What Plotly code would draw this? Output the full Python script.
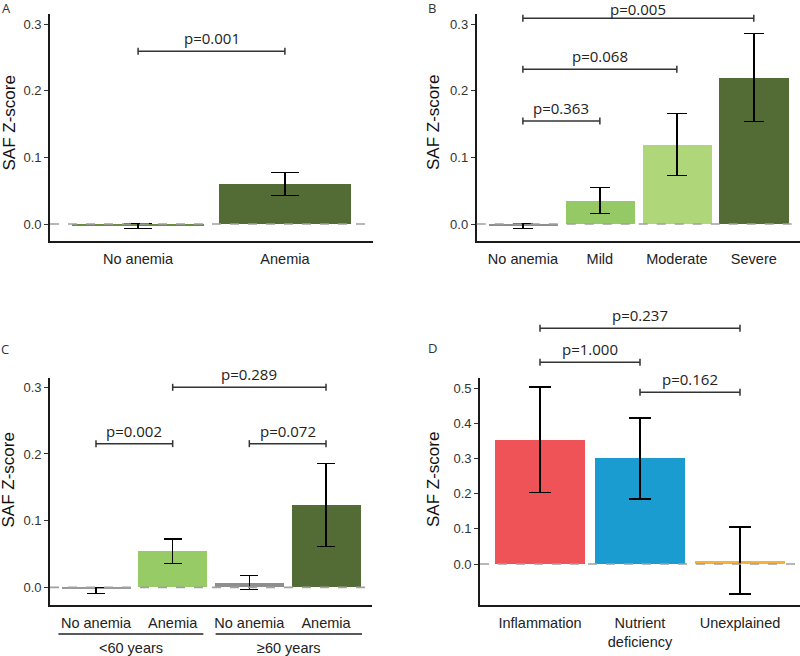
import plotly.graph_objects as go

# ---------------- data ----------------
A_cats = ["No anemia", "Anemia"]
A_vals = [-0.002, 0.060]
A_hi = [0.001, 0.0775]
A_lo = [-0.007, 0.0425]
A_colors = ["#6B8E3E", "#536C36"]
A_pairs = [(0, 1)]
A_pvals = ["p=0.001"]

B_cats = ["No anemia", "Mild", "Moderate", "Severe"]
B_vals = [-0.002, 0.035, 0.119, 0.2195]
B_hi = [0.001, 0.055, 0.1655, 0.286]
B_lo = [-0.007, 0.016, 0.0725, 0.1535]
B_colors = ["#8E8E8E", "#95C965", "#B0D67A", "#536C36"]
B_pairs = [(0, 1), (0, 2), (0, 3)]
B_pvals = ["p=0.363", "p=0.068", "p=0.005"]

C_cats = ["No anemia", "Anemia", "No anemia", "Anemia"]
C_groups = ["<60 years", "≥60 years"]
C_vals = [-0.002, 0.0545, 0.006, 0.1235]
C_hi = [-0.0005, 0.0725, 0.0175, 0.1855]
C_lo = [-0.009, 0.036, -0.003, 0.061]
C_colors = ["#9A9A9A", "#96CB66", "#8E8E8E", "#536C36"]
C_pairs = [(0, 1), (2, 3), (1, 3)]
C_pvals = ["p=0.002", "p=0.072", "p=0.289"]

D_cats = ["Inflammation", "Nutrient<br>deficiency", "Unexplained"]
D_vals = [0.353, 0.300, 0.0085]
D_hi = [0.503, 0.415, 0.105]
D_lo = [0.203, 0.185, -0.086]
D_colors = ["#EF5257", "#1A9CD0", "#F8B133"]
D_pairs = [(0, 1), (1, 2), (0, 2)]
D_pvals = ["p=1.000", "p=0.162", "p=0.237"]

# ---------------- layout helpers ----------------
W, H = 800, 656
TICKFONT = "Liberation Sans"
PFONT = "Open Sans"


def px_x(p):
    return p / W


def px_y(p):
    return 1 - p / H


panels = [
    dict(name="A", cats=A_cats, vals=A_vals, hi=A_hi, lo=A_lo, colors=A_colors,
         pairs=A_pairs, pvals=A_pvals, bracket_y=[0.259], pshift=[1],
         xdom=[px_x(50), px_x(373)], ypx=(14, 241), yrange=[-0.0255, 0.315],
         yticks=[0, 0.1, 0.2, 0.3], cap=14, title_x=8.5, title_y=123,
         letter=(6, 8)),
    dict(name="B", cats=B_cats, vals=B_vals, hi=B_hi, lo=B_lo, colors=B_colors,
         pairs=B_pairs, pvals=B_pvals, bracket_y=[0.1545, 0.232, 0.3085],
         pshift=[1, 1, -2.5],
         xdom=[px_x(476.7), 1.0], ypx=(14, 241), yrange=[-0.0255, 0.315],
         yticks=[0, 0.1, 0.2, 0.3], cap=10, title_x=433, title_y=123,
         letter=(432, 8)),
    dict(name="C", cats=C_cats, vals=C_vals, hi=C_hi, lo=C_lo, colors=C_colors,
         pairs=C_pairs, pvals=C_pvals, bracket_y=[0.2155, 0.2155, 0.300],
         pshift=[1, 1, 1],
         xdom=[px_x(50), px_x(372)], ypx=(378.3, 605), yrange=[-0.0265, 0.3135],
         yticks=[0, 0.1, 0.2, 0.3], cap=9, title_x=7.5, title_y=480,
         letter=(5, 349)),
    dict(name="D", cats=D_cats, vals=D_vals, hi=D_hi, lo=D_lo, colors=D_colors,
         pairs=D_pairs, pvals=D_pvals, bracket_y=[0.574, 0.4887, 0.671],
         pshift=[1, 1, 1],
         xdom=[px_x(480), 1.0], ypx=(378.3, 605), yrange=[-0.1167, 0.5286],
         yticks=[0, 0.1, 0.2, 0.3, 0.4, 0.5], cap=11, title_x=433, title_y=480,
         letter=(432, 348)),
]

fig = go.Figure()
shapes = []
annotations = []
layout_axes = {}

for k, p in enumerate(panels, start=1):
    xs = "" if k == 1 else str(k)
    xid, yid = "x" + xs, "y" + xs
    n = len(p["cats"])
    xpos = list(range(n))
    r0, r1 = p["yrange"]

    def dfrac(v, r0=r0, r1=r1):
        return (v - r0) / (r1 - r0)

    fig.add_trace(go.Bar(
        x=xpos, y=p["vals"], width=0.9,
        marker=dict(color=p["colors"], line=dict(width=0)),
        error_y=dict(type="data", symmetric=False,
                     array=[h - v for h, v in zip(p["hi"], p["vals"])],
                     arrayminus=[v - l for v, l in zip(p["vals"], p["lo"])],
                     color="black", thickness=1.6, width=p["cap"]),
        xaxis=xid, yaxis=yid, showlegend=False, hoverinfo="skip",
    ))

    ydom = [px_y(p["ypx"][1]), px_y(p["ypx"][0])]
    layout_axes["xaxis" + xs] = dict(
        domain=p["xdom"], range=[-0.6, n - 0.4], anchor=yid,
        showline=True, linecolor="#1a1a1a", linewidth=1.8, ticks="",
        tickmode="array", tickvals=xpos, ticktext=p["cats"],
        tickfont=dict(family=TICKFONT, size=14.5, color="#222"),
        ticklabelstandoff=4, showgrid=False, zeroline=False, fixedrange=True,
    )
    layout_axes["yaxis" + xs] = dict(
        domain=ydom, range=p["yrange"], anchor=xid,
        showline=True, linecolor="#1a1a1a", linewidth=1.8,
        ticks="outside", ticklen=4, tickwidth=1.2, tickcolor="#333",
        tickmode="array", tickvals=p["yticks"], tickformat=".1f",
        tickfont=dict(family=TICKFONT, size=13, color="#333"),
        showgrid=False, zeroline=False, fixedrange=True,
    )

    # dashed zero reference line
    shapes.append(dict(type="line", xref=xid + " domain", yref=yid,
                       x0=0, x1=1, y0=0, y1=0, layer="above",
                       line=dict(color="#A0A0A0", width=1.6, dash="dash")))

    # significance brackets
    for (i, j), lab, yb, sh in zip(p["pairs"], p["pvals"], p["bracket_y"], p["pshift"]):
        fy = dfrac(yb)
        shapes.append(dict(type="line", xref=xid, yref=yid + " domain",
                           x0=i, x1=j, y0=fy, y1=fy,
                           line=dict(color="#333", width=1.5)))
        for xe in (i, j):
            shapes.append(dict(type="line", xref=xid, yref=yid + " domain",
                               ysizemode="pixel", yanchor=fy, y0=-3.5, y1=3.5,
                               x0=xe, x1=xe,
                               line=dict(color="#333", width=1.5)))
        annotations.append(dict(x=(i + j) / 2, y=fy, xref=xid, yref=yid + " domain",
                                text=lab, showarrow=False, yanchor="bottom",
                                yshift=sh, font=dict(family=PFONT, size=15, color="#222")))

    # y-axis title
    annotations.append(dict(x=px_x(p["title_x"]), y=px_y(p["title_y"]),
                            xref="paper", yref="paper", text="SAF Z-score",
                            textangle=-90, showarrow=False,
                            xanchor="center", yanchor="middle",
                            font=dict(family=TICKFONT, size=17, color="#111")))
    # panel letter
    annotations.append(dict(x=px_x(p["letter"][0]), y=px_y(p["letter"][1]),
                            xref="paper", yref="paper", text=p["name"],
                            showarrow=False, xanchor="center", yanchor="middle",
                            font=dict(family=PFONT, size=13, color="#333")))

# group underline + labels for panel C
c_axis_h = 605 - 378.3
c_under = -(634 - 605) / c_axis_h
c_lab = -(648 - 605) / c_axis_h
for (g0, g1), g in zip([(-0.49, 1.4), (1.56, 3.47)], C_groups):
    shapes.append(dict(type="line", xref="x3", yref="y3 domain",
                       x0=g0, x1=g1, y0=c_under, y1=c_under,
                       line=dict(color="#222", width=1.3)))
    annotations.append(dict(x=(g0 + g1) / 2, y=c_lab, xref="x3", yref="y3 domain",
                            text=g, showarrow=False, yanchor="middle",
                            font=dict(family=TICKFONT, size=14.5, color="#222")))

fig.update_layout(
    width=W, height=H, margin=dict(l=0, r=0, t=0, b=0),
    paper_bgcolor="white", plot_bgcolor="white",
    shapes=shapes, annotations=annotations, bargap=0,
    **layout_axes,
)

fig.write_html(
    "out.html",
    config={"displayModeBar": False},
    post_script="document.body.style.margin='0';document.body.style.overflow='hidden';",
)
